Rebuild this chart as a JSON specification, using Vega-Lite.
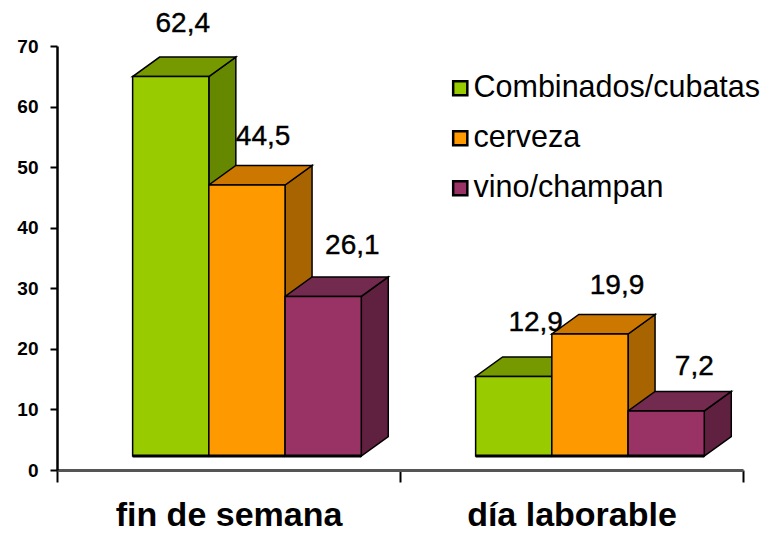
{
"$schema":"https://vega.github.io/schema/vega-lite/v6.json",
"width":686,"height":424,"autosize":"none",
"padding":{"left":57,"top":46,"right":19,"bottom":63},
"background":"white",
"config":{"view":{"stroke":null},"font":"Liberation Sans"},
"data":{"values":[
{"grupo":"fin de semana","serie":"Combinados/cubatas","valor":62.4},
{"grupo":"fin de semana","serie":"cerveza","valor":44.5},
{"grupo":"fin de semana","serie":"vino/champan","valor":26.1},
{"grupo":"día laborable","serie":"Combinados/cubatas","valor":12.9},
{"grupo":"día laborable","serie":"cerveza","valor":19.9},
{"grupo":"día laborable","serie":"vino/champan","valor":7.2}
]},
"transform":[
{"calculate":"datum.grupo==='fin de semana'?0:1","as":"g"},
{"calculate":"datum.serie==='Combinados/cubatas'?0:datum.serie==='cerveza'?1:2","as":"s"},
{"calculate":"datum.g+0.2205+datum.s*0.2222","as":"L"},
{"calculate":"datum.L+0.2222","as":"R"},
{"calculate":"datum.valor+2.55","as":"T"},
{"calculate":"2.3","as":"B"},
{"calculate":"datum.g+'-'+datum.s","as":"k"}
],
"resolve":{"axis":{"x":"independent","y":"independent"},"scale":{"fill":"independent"}},
"layer":[
{"transform":[
{"calculate":"[datum.R,datum.R+0.0787]","as":"tx"},
{"calculate":"[datum.T,datum.T+3.22]","as":"ty"},
{"calculate":"[datum.B,datum.B+3.22]","as":"ty2"},
{"flatten":["tx","ty","ty2"]}],
"mark":{"type":"area","stroke":"black","strokeWidth":1.5},
"encoding":{
"x":{"field":"tx","type":"quantitative","title":null,"scale":{"domain":[0,2],"nice":false},
"axis":{"values":[0,0.5,1,1.5,2],"grid":false,"domainColor":"#555555","domainWidth":3,"tickColor":"black","tickWidth":2,"tickSize":12,
"tickOpacity":{"condition":{"test":"datum.value%1===0","value":1},"value":0},
"labelExpr":"datum.value===0.5?'fin de semana':datum.value===1.5?'día laborable':''",
"labelFont":"Liberation Sans","labelFontWeight":"bold","labelFontSize":34,"labelColor":"black","labelAngle":0,"labelPadding":16,"labelFlush":false,"labelOverlap":false,"labelBound":false,"labelLimit":400}},
"y":{"field":"ty","type":"quantitative","title":null,"scale":{"domain":[0,70],"nice":false},
"axis":{"values":[0,10,20,30,40,50,60,70],"grid":false,"domainColor":"black","domainWidth":2.5,"tickColor":"black","tickWidth":2,"tickSize":7,"labelFont":"Liberation Sans","labelFontWeight":"bold","labelFontSize":19,"labelColor":"black","labelPadding":12}},
"y2":{"field":"ty2"},
"detail":{"field":"k"},
"fill":{"field":"s","type":"nominal","legend":null,"scale":{"domain":[0,1,2],"range":["#668800","#A86400","#60203F"]}}
}},
{"transform":[
{"calculate":"[datum.L,datum.L+0.0787,datum.R,datum.R+0.0787]","as":"tx"},
{"calculate":"[datum.T,datum.T,datum.T,datum.T+3.22]","as":"ty"},
{"calculate":"[datum.T,datum.T+3.22,datum.T+3.22,datum.T+3.22]","as":"ty2"},
{"flatten":["tx","ty","ty2"]}],
"mark":{"type":"area","stroke":"black","strokeWidth":1.5},
"encoding":{
"x":{"field":"tx","type":"quantitative","axis":null},
"y":{"field":"ty","type":"quantitative","axis":null},
"y2":{"field":"ty2"},
"detail":{"field":"k"},
"fill":{"field":"s","type":"nominal","legend":null,"scale":{"domain":[0,1,2],"range":["#779900","#CC7700","#732A4F"]}}
}},
{"mark":{"type":"rect","stroke":"black","strokeWidth":1.5},
"encoding":{
"x":{"field":"L","type":"quantitative","axis":null},
"x2":{"field":"R"},
"y":{"field":"T","type":"quantitative","axis":null},
"y2":{"field":"B"},
"color":{"field":"serie","type":"nominal","sort":null,
"scale":{"domain":["Combinados/cubatas","cerveza","vino/champan"],"range":["#99CC00","#FF9900","#993366"]},
"legend":{"title":null,"orient":"none","legendX":388,"legendY":27,"symbolType":"square","symbolSize":200,"symbolStrokeColor":"black","symbolStrokeWidth":2.5,"symbolOpacity":1,"labelFont":"Liberation Sans","labelFontSize":30.5,"labelColor":"black","labelLimit":400,"rowPadding":19,"labelOffset":-2,"padding":0}}
}},
{"mark":{"type":"rule","color":"black","strokeWidth":3},
"encoding":{
"x":{"field":"L","type":"quantitative","axis":null},
"x2":{"field":"R"},
"y":{"field":"B","type":"quantitative","axis":null}
}},
{"transform":[
{"calculate":"({'0-0':0.035,'0-1':0.047,'0-2':0.085,'1-0':0.064,'1-1':0.079,'1-2':0.082})[datum.k]","as":"ox"},
{"calculate":"({'0-0':8.68,'0-1':7.93,'0-2':8.34,'1-0':8.75,'1-1':7.92,'1-2':7.26})[datum.k]","as":"oy"},
{"calculate":"(datum.L+datum.R)/2+datum.ox","as":"lx"},
{"calculate":"datum.T+datum.oy","as":"ly"},
{"calculate":"replace(format(datum.valor,'.1f'),'.',',')","as":"etiqueta"}],
"mark":{"type":"text","font":"Liberation Sans","fontSize":28,"color":"black","stroke":"black","strokeWidth":0.4,"align":"center","baseline":"middle"},
"encoding":{
"x":{"field":"lx","type":"quantitative","axis":null},
"y":{"field":"ly","type":"quantitative","axis":null},
"text":{"field":"etiqueta"}
}}
]
}
